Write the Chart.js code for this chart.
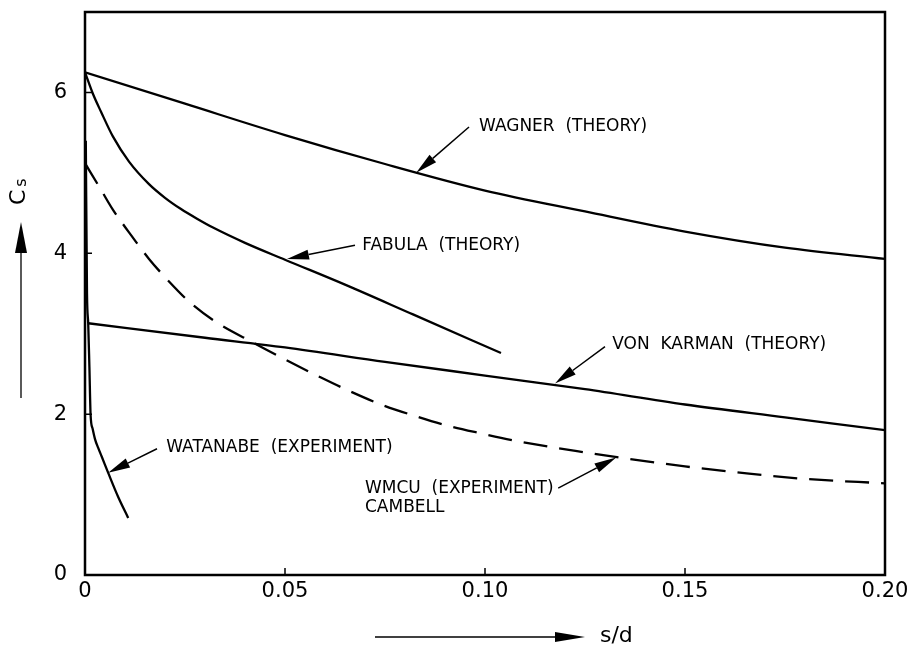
<!DOCTYPE html>
<html>
<head>
<meta charset="utf-8">
<title>Cs vs s/d</title>
<script src="https://cdn.jsdelivr.net/npm/chart.js@4.4.1/dist/chart.umd.min.js"></script>
<style>
  body { margin: 0; background: #fff; }
  canvas { display: block; }
</style>
</head>
<body>
<canvas id="graficoCs" width="917" height="648"></canvas>
<script>
// tick values and labels
const xTicks = [0, 0.05, 0.10, 0.15, 0.20];
const xTickLabels = ['0', '0.05', '0.10', '0.15', '0.20'];
const yTicks = [0, 2, 4, 6];
const yTickLabels = ['0', '2', '4', '6'];

// Wagner (theory)
const wagnerX = [0, 0.025, 0.05, 0.075, 0.10, 0.125, 0.15, 0.175, 0.20];
const wagnerY = [6.25, 5.86, 5.47, 5.11, 4.78, 4.52, 4.27, 4.07, 3.93];

// Fabula (theory)
const fabulaX = [0, 0.002, 0.004, 0.007, 0.011, 0.016, 0.020, 0.024, 0.028, 0.032, 0.040, 0.050, 0.065, 0.082, 0.104];
const fabulaY = [6.25, 5.98, 5.76, 5.45, 5.14, 4.86, 4.69, 4.55, 4.43, 4.32, 4.13, 3.92, 3.61, 3.24, 2.76];

// Von Karman (theory)
const karmanX = [0.0008, 0.03, 0.05, 0.075, 0.10, 0.125, 0.15, 0.175, 0.20];
const karmanY = [3.13, 2.95, 2.83, 2.65, 2.48, 2.31, 2.12, 1.96, 1.80];

// Watanabe (experiment)
const watanabeX = [0.0002, 0.0005, 0.0008, 0.0011, 0.0014, 0.0019, 0.0025, 0.0033, 0.0042, 0.0058, 0.0083, 0.0108];
const watanabeY = [5.40, 3.50, 3.13, 2.59, 1.99, 1.82, 1.69, 1.58, 1.47, 1.27, 0.97, 0.71];

// WMCU (experiment) Cambell
const wmcuX = [0, 0.004, 0.007, 0.011, 0.016, 0.021, 0.026, 0.032, 0.042, 0.050, 0.059, 0.066, 0.074,
  0.082, 0.090, 0.099, 0.107, 0.116, 0.125, 0.133, 0.150, 0.166, 0.180, 0.200];
const wmcuY = [5.12, 4.79, 4.54, 4.26, 3.93, 3.65, 3.40, 3.17, 2.89, 2.68, 2.455, 2.29, 2.12,
  1.985, 1.865, 1.76, 1.675, 1.595, 1.525, 1.465, 1.35, 1.26, 1.195, 1.14];

// curve labels: text anchor, arrow tail and arrow tip, in data units
const etiquetas = [
  { text: ['WAGNER  (THEORY)'], tx: 0.0985, ty: 5.57, from: [0.0960, 5.57], to: [0.0828, 5.00] },
  { text: ['FABULA  (THEORY)'], tx: 0.0693, ty: 4.10, from: [0.0675, 4.10], to: [0.0505, 3.93] },
  { text: ['VON  KARMAN  (THEORY)'], tx: 0.1318, ty: 2.86, from: [0.1300, 2.84], to: [0.1175, 2.38] },
  { text: ['WATANABE  (EXPERIMENT)'], tx: 0.0203, ty: 1.58, from: [0.0180, 1.57], to: [0.0058, 1.27] },
  { text: ['WMCU  (EXPERIMENT)', 'CAMBELL'], tx: 0.0700, ty: 1.08, from: [0.1183, 1.08], to: [0.1328, 1.46] }
];

const FONT = '"DejaVu Sans", sans-serif';

function puntos(xs, ys) {
  return xs.map((x, i) => ({ x: x, y: ys[i] }));
}

function serie(label, xs, ys, dash) {
  return {
    label: label,
    data: puntos(xs, ys),
    borderColor: '#000',
    borderWidth: 2.3,
    borderDash: dash || [],
    pointRadius: 0,
    fill: false,
    cubicInterpolationMode: 'monotone'
  };
}

function flecha(ctx, x1, y1, x2, y2, largo, ancho) {
  const ang = Math.atan2(y2 - y1, x2 - x1);
  const bx = x2 - largo * Math.cos(ang);
  const by = y2 - largo * Math.sin(ang);
  ctx.beginPath();
  ctx.moveTo(x1, y1);
  ctx.lineTo(bx, by);
  ctx.stroke();
  ctx.beginPath();
  ctx.moveTo(x2, y2);
  ctx.lineTo(bx + ancho * Math.sin(ang), by - ancho * Math.cos(ang));
  ctx.lineTo(bx - ancho * Math.sin(ang), by + ancho * Math.cos(ang));
  ctx.closePath();
  ctx.fill();
}

const decorado = {
  id: 'decorado',
  afterDraw(chart) {
    const ctx = chart.ctx;
    const a = chart.chartArea;
    const sx = chart.scales.x;
    const sy = chart.scales.y;
    ctx.save();
    ctx.strokeStyle = '#000';
    ctx.fillStyle = '#000';

    // frame
    ctx.lineWidth = 2.5;
    ctx.strokeRect(a.left, a.top, a.right - a.left, a.bottom - a.top);

    // inward tick marks
    ctx.lineWidth = 1.5;
    ctx.beginPath();
    sx.ticks.forEach(t => {
      const px = sx.getPixelForValue(t.value);
      ctx.moveTo(px, a.bottom);
      ctx.lineTo(px, a.bottom - 7);
    });
    sy.ticks.forEach(t => {
      const py = sy.getPixelForValue(t.value);
      ctx.moveTo(a.left, py);
      ctx.lineTo(a.left + 7, py);
    });
    ctx.stroke();

    // curve labels with arrows
    ctx.font = '17px ' + FONT;
    ctx.textBaseline = 'middle';
    ctx.textAlign = 'left';
    ctx.lineWidth = 1.5;
    etiquetas.forEach(e => {
      const tx = sx.getPixelForValue(e.tx);
      const ty = sy.getPixelForValue(e.ty);
      e.text.forEach((linea, i) => ctx.fillText(linea, tx, ty + i * 19));
      flecha(ctx,
        sx.getPixelForValue(e.from[0]), sy.getPixelForValue(e.from[1]),
        sx.getPixelForValue(e.to[0]), sy.getPixelForValue(e.to[1]), 22, 5);
    });

    // y axis title: arrow up and C_s
    ctx.lineWidth = 1.3;
    flecha(ctx, 21, 398, 21, 222, 31, 6);
    ctx.save();
    ctx.translate(25, 205);
    ctx.rotate(-Math.PI / 2);
    ctx.textBaseline = 'alphabetic';
    ctx.font = '22px ' + FONT;
    ctx.fillText('C', 0, 0);
    const w = ctx.measureText('C').width;
    ctx.font = '16px ' + FONT;
    ctx.fillText('s', w + 3, 1);
    ctx.restore();

    // x axis title: arrow right and s/d
    flecha(ctx, 375, 637, 585, 637, 30, 5);
    ctx.font = '22px ' + FONT;
    ctx.textBaseline = 'middle';
    ctx.fillText('s/d', 600, 636);

    ctx.restore();
  }
};

const ctx = document.getElementById('graficoCs');
new Chart(ctx, {
  type: 'line',
  data: {
    datasets: [
      serie('Wagner (theory)', wagnerX, wagnerY),
      serie('Fabula (theory)', fabulaX, fabulaY),
      serie('Von Karman (theory)', karmanX, karmanY),
      serie('Watanabe (experiment)', watanabeX, watanabeY),
      serie('WMCU (experiment) Cambell', wmcuX, wmcuY, [24, 12])
    ]
  },
  options: {
    responsive: false,
    animation: false,
    layout: { padding: { top: 12, right: 32, left: 0, bottom: 0 } },
    plugins: { legend: { display: false }, tooltip: { enabled: false } },
    scales: {
      x: {
        type: 'linear',
        min: 0,
        max: 0.20,
        afterBuildTicks: s => { s.ticks = xTicks.map(v => ({ value: v })); },
        afterFit: s => {
          s.height = 73;
          s.paddingLeft = 0;
          s.paddingRight = 0;
        },
        ticks: {
          color: '#000',
          padding: 6,
          maxRotation: 0,
          font: { family: FONT, size: 21, lineHeight: 1 },
          callback: (v, i) => xTickLabels[i]
        },
        grid: { display: false, drawTicks: false },
        border: { display: false }
      },
      y: {
        type: 'linear',
        min: 0,
        max: 7,
        afterBuildTicks: s => { s.ticks = yTicks.map(v => ({ value: v })); },
        afterFit: s => {
          s.width = 85;
          s.paddingTop = 0;
          s.paddingBottom = 0;
        },
        ticks: {
          color: '#000',
          padding: 18,
          font: { family: FONT, size: 21, lineHeight: 1 },
          callback: (v, i) => yTickLabels[i]
        },
        grid: { display: false, drawTicks: false },
        border: { display: false }
      }
    }
  },
  plugins: [decorado]
});
</script>
</body>
</html>
